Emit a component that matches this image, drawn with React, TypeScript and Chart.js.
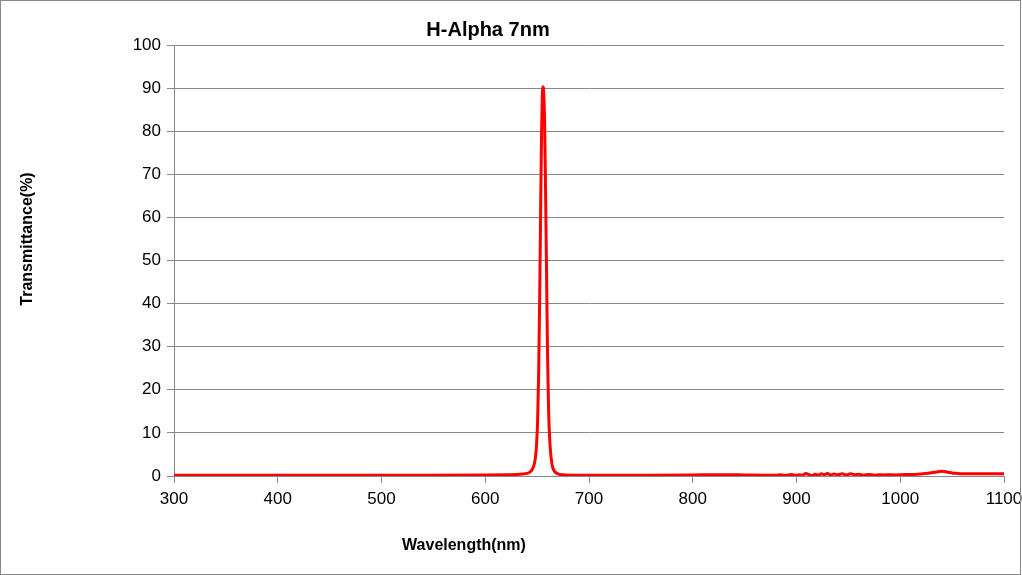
import React, { useEffect, useRef } from "react";
import { Chart, registerables } from "chart.js";

Chart.register(...registerables);

const chartTitle = "H-Alpha 7nm";
const xAxisTitle = "Wavelength(nm)";
const yAxisTitle = "Transmittance(%)";

// Wavelength samples (nm)
const wavelengthBase = [300, 350, 400, 450, 500, 550, 600, 620, 630, 636];
const wavelengthPeak = [640, 643, 645, 647, 648.5, 649.5, 650.5, 651.5, 652.5, 653.5, 654.3, 655, 655.7, 656.4, 657.2, 658, 659, 660, 661, 662, 663.5, 665, 667, 670, 675];
const wavelengthMid = [690, 720, 760, 800, 820, 850, 870, 880];
const wavelengthNoise = [885, 890, 895, 900, 903, 906, 909, 912, 915, 918, 921, 924, 927, 930, 933, 936, 940, 944, 948, 952, 956, 960, 965, 970, 975, 980, 985, 990, 995, 1000];
const wavelengthIR = [1010, 1020, 1030, 1035, 1040, 1045, 1050, 1055, 1060, 1070, 1080, 1090, 1100];

// Transmittance (%)
const transBase = [0.2, 0.2, 0.2, 0.2, 0.2, 0.2, 0.25, 0.3, 0.35, 0.45];
const transPeak = [0.6, 0.9, 1.4, 2.6, 4.5, 7.5, 13, 24, 42, 64, 80, 88, 90.3, 88.8, 82, 69, 49, 29, 16, 9, 4.2, 2, 1, 0.5, 0.3];
const transMid = [0.2, 0.2, 0.2, 0.25, 0.3, 0.25, 0.2, 0.15];
const transNoise = [0.3, 0.1, 0.35, 0.15, 0.3, 0.2, 0.6, 0.3, 0.1, 0.4, 0.2, 0.5, 0.3, 0.6, 0.2, 0.45, 0.3, 0.5, 0.25, 0.55, 0.3, 0.4, 0.2, 0.35, 0.2, 0.3, 0.25, 0.3, 0.25, 0.3];
const transIR = [0.35, 0.45, 0.75, 0.95, 1.1, 0.95, 0.7, 0.6, 0.55, 0.55, 0.5, 0.55, 0.55];

const wavelengths = [...wavelengthBase, ...wavelengthPeak, ...wavelengthMid, ...wavelengthNoise, ...wavelengthIR];
const transmittance = [...transBase, ...transPeak, ...transMid, ...transNoise, ...transIR];

const FONT = "'Liberation Sans', Arial, sans-serif";

const decorPlugin = {
  id: "decor",
  afterDraw(chart: any) {
    const ctx = chart.ctx;
    ctx.save();
    ctx.strokeStyle = "#888888";
    ctx.lineWidth = 1;
    ctx.strokeRect(0.5, 0.5, 1020, 574);
    ctx.fillStyle = "#000";
    ctx.textAlign = "center";
    ctx.textBaseline = "middle";
    ctx.font = `bold 20px ${FONT}`;
    ctx.fillText(chartTitle, 488, 30);
    ctx.font = `bold 16px ${FONT}`;
    ctx.fillText(xAxisTitle, 464, 546);
    ctx.translate(28, 239);
    ctx.rotate(-Math.PI / 2);
    ctx.fillText(yAxisTitle, 0, 0);
    ctx.restore();
  },
};

export default function App() {
  const ref = useRef<HTMLCanvasElement | null>(null);
  useEffect(() => {
    if (!ref.current) return;
    const chart = new Chart(ref.current, {
      type: "line",
      data: {
        datasets: [
          {
            data: wavelengths.map((w, i) => ({ x: w, y: transmittance[i] })),
            borderColor: "#ff0000",
            backgroundColor: "#ff0000",
            borderWidth: 3,
            pointRadius: 0,
            cubicInterpolationMode: "monotone",
            fill: false,
          },
        ],
      },
      options: {
        responsive: false,
        animation: false,
        layout: { padding: { top: 45, right: 18, left: 0, bottom: 0 } },
        plugins: { legend: { display: false }, tooltip: { enabled: false } },
        scales: {
          x: {
            type: "linear",
            min: 300,
            max: 1100,
            afterFit: (s: any) => {
              s.height = 99;
              s.paddingLeft = 0;
              s.paddingRight = 0;
            },
            ticks: {
              stepSize: 100,
              color: "#000",
              font: { family: FONT, size: 17 },
              padding: 6,
              maxRotation: 0,
              callback: (v: any) => String(v),
            },
            grid: { drawOnChartArea: false, drawTicks: true, tickLength: 7, color: "#888888" },
            border: { color: "#888888" },
          },
          y: {
            min: 0,
            max: 100,
            afterFit: (s: any) => {
              s.width = 174;
              s.paddingTop = 0;
              s.paddingBottom = 0;
            },
            ticks: {
              stepSize: 10,
              color: "#000",
              font: { family: FONT, size: 17 },
              padding: 6,
              callback: (v: any) => String(v),
            },
            grid: { color: "#888888", tickLength: 7 },
            border: { color: "#888888" },
          },
        },
      },
      plugins: [decorPlugin],
    });
    return () => chart.destroy();
  }, []);
  return (
    <div style={{ position: "absolute", left: 0, top: 0, width: 1022, height: 575, background: "#fff" }}>
      <canvas ref={ref} width={1022} height={575} style={{ display: "block" }} />
    </div>
  );
}
